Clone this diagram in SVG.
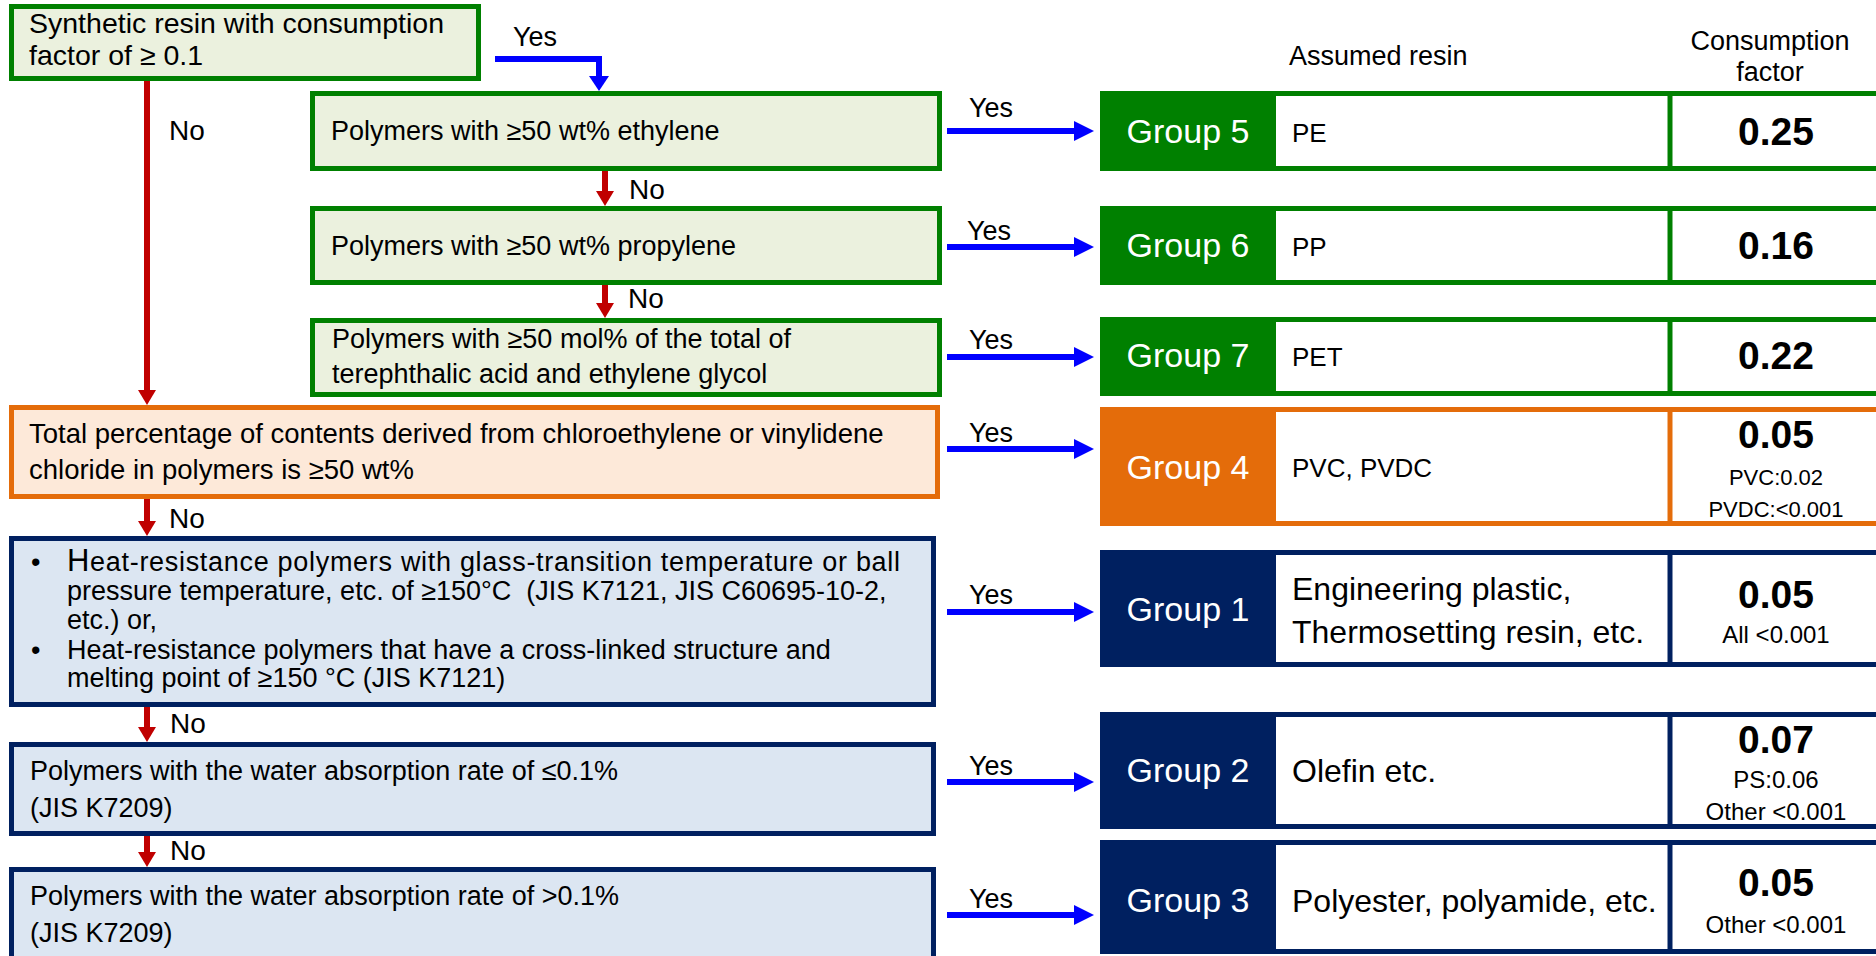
<svg xmlns="http://www.w3.org/2000/svg" width="1876" height="956" viewBox="0 0 1876 956">
<style>
text{font-family:"Liberation Sans",Arial,sans-serif;fill:#000}
.t{font-size:27px}
.tt{font-size:28.5px}
.to{font-size:27.5px}
.lbl{font-size:27px}
.no{font-size:28px}
.hdr{font-size:27px}
.grp{font-size:34px;fill:#fff;text-anchor:middle}
.res{font-size:26px}
.resL{font-size:32px}
.val{font-size:39px;font-weight:bold;text-anchor:middle}
.sm{font-size:22px;text-anchor:middle}
.sm2{font-size:24px;text-anchor:middle}
.gbox{fill:#EBF1DE;stroke:#008000;stroke-width:5}
.obox{fill:#FDE9D9;stroke:#E46C0A;stroke-width:5}
.bbox{fill:#DCE6F2;stroke:#002060;stroke-width:5}
.yes{stroke:#0000FF;stroke-width:6;fill:none;marker-end:url(#bh)}
.nol{stroke:#C00000;stroke-width:6;fill:none;marker-end:url(#rh)}
</style>
<defs>
<marker id="bh" viewBox="0 0 20 20" markerUnits="userSpaceOnUse" markerWidth="20" markerHeight="20" refX="4" refY="10" orient="auto"><path d="M0,0 L20,10 L0,20 z" fill="#0000FF"/></marker>
<marker id="bh2" viewBox="0 0 15 20" markerUnits="userSpaceOnUse" markerWidth="15" markerHeight="20" refX="4" refY="10" orient="auto"><path d="M0,0 L15,10 L0,20 z" fill="#0000FF"/></marker>
<marker id="rh" viewBox="0 0 15 18" markerUnits="userSpaceOnUse" markerWidth="15" markerHeight="18" refX="4" refY="9" orient="auto"><path d="M0,0 L15,9 L0,18 z" fill="#C00000"/></marker>
</defs>
<rect width="1876" height="956" fill="#fff"/>

<g id="connectors">
<path d="M495,59 H599 V80" stroke="#0000FF" stroke-width="6" fill="none" marker-end="url(#bh2)"/>
<line class="nol" x1="147" y1="81" x2="147" y2="394"/>
<line class="nol" x1="605" y1="171" x2="605" y2="195"/>
<line class="nol" x1="605" y1="285" x2="605" y2="307"/>
<line class="nol" x1="147" y1="499" x2="147" y2="525"/>
<line class="nol" x1="147" y1="707" x2="147" y2="731"/>
<line class="nol" x1="147" y1="836" x2="147" y2="856"/>
<line class="yes" x1="947" y1="131" x2="1078" y2="131"/>
<line class="yes" x1="947" y1="247" x2="1078" y2="247"/>
<line class="yes" x1="947" y1="357" x2="1078" y2="357"/>
<line class="yes" x1="947" y1="449" x2="1078" y2="449"/>
<line class="yes" x1="947" y1="612" x2="1078" y2="612"/>
<line class="yes" x1="947" y1="782" x2="1078" y2="782"/>
<line class="yes" x1="947" y1="915" x2="1078" y2="915"/>
<text class="lbl" x="513" y="46">Yes</text>
<text class="no" x="169" y="140">No</text>
<text class="no" x="629" y="199">No</text>
<text class="no" x="628" y="308">No</text>
<text class="no" x="169" y="528">No</text>
<text class="no" x="170" y="733">No</text>
<text class="no" x="170" y="860">No</text>
<text class="lbl" x="969" y="117">Yes</text>
<text class="lbl" x="967" y="240">Yes</text>
<text class="lbl" x="969" y="349">Yes</text>
<text class="lbl" x="969" y="442">Yes</text>
<text class="lbl" x="969" y="604">Yes</text>
<text class="lbl" x="969" y="775">Yes</text>
<text class="lbl" x="969" y="908">Yes</text>
</g>

<g id="start">
<rect class="gbox" x="11.5" y="6.5" width="467" height="72"/>
<text class="tt" x="29" y="33">Synthetic resin with consumption</text>
<text class="tt" x="29" y="65">factor of ≥ 0.1</text>
</g>
<g id="q-ethylene">
<rect class="gbox" x="312.5" y="93.5" width="627" height="75"/>
<text class="t" x="331" y="140">Polymers with ≥50 wt% ethylene</text>
</g>
<g id="q-propylene">
<rect class="gbox" x="312.5" y="208.5" width="627" height="74"/>
<text class="t" x="331" y="255">Polymers with ≥50 wt% propylene</text>
</g>
<g id="q-pet">
<rect class="gbox" x="312.5" y="320.5" width="627" height="74"/>
<text class="t" x="332" y="348">Polymers with ≥50 mol% of the total of</text>
<text class="t" x="332" y="383">terephthalic acid and ethylene glycol</text>
</g>
<g id="q-chloro">
<rect class="obox" x="11.5" y="407.5" width="926" height="89"/>
<text class="to" x="29" y="443">Total percentage of contents derived from chloroethylene or vinylidene</text>
<text class="to" x="29" y="479">chloride in polymers is ≥50 wt%</text>
</g>
<g id="q-heat">
<rect class="bbox" x="11.5" y="538.5" width="922" height="166"/>
<text class="t" x="31" y="571">•</text>
<text class="t" x="67" y="571" textLength="833" lengthAdjust="spacing"><tspan font-size="31">H</tspan>eat-resistance polymers with glass-transition temperature or ball</text>
<text class="t" x="67" y="600" xml:space="preserve">pressure temperature, etc. of ≥150°C  (JIS K7121, JIS C60695-10-2,</text>
<text class="t" x="67" y="629">etc.) or,</text>
<text class="t" x="31" y="659">•</text>
<text class="t" x="67" y="659">Heat-resistance polymers that have a cross-linked structure and</text>
<text class="t" x="67" y="687">melting point of ≥150 °C (JIS K7121)</text>
</g>
<g id="q-water-low">
<rect class="bbox" x="11.5" y="744.5" width="922" height="89"/>
<text class="t" x="30" y="780">Polymers with the water absorption rate of ≤0.1%</text>
<text class="t" x="30" y="817">(JIS K7209)</text>
</g>
<g id="q-water-high">
<rect class="bbox" x="11.5" y="869.5" width="922" height="100"/>
<text class="t" x="30" y="905">Polymers with the water absorption rate of &gt;0.1%</text>
<text class="t" x="30" y="942">(JIS K7209)</text>
</g>

<g id="headers">
<text class="hdr" x="1289" y="65" font-size="28.5">Assumed resin</text>
<text class="hdr" x="1770" y="50" text-anchor="middle">Consumption</text>
<text class="hdr" x="1770" y="81" text-anchor="middle">factor</text>
</g>

<g id="group5">
<rect x="1102.5" y="93.5" width="900" height="75" fill="#fff" stroke="#008000" stroke-width="5"/>
<rect x="1100" y="91" width="176" height="80" rx="4" fill="#008000"/>
<line x1="1670" y1="91" x2="1670" y2="171" stroke="#008000" stroke-width="5"/>
<text class="grp" x="1188" y="143">Group 5</text>
<text class="res" x="1292" y="142">PE</text>
<text class="val" x="1776" y="145">0.25</text>
</g>
<g id="group6">
<rect x="1102.5" y="208.5" width="900" height="74" fill="#fff" stroke="#008000" stroke-width="5"/>
<rect x="1100" y="206" width="176" height="79" rx="4" fill="#008000"/>
<line x1="1670" y1="206" x2="1670" y2="285" stroke="#008000" stroke-width="5"/>
<text class="grp" x="1188" y="257">Group 6</text>
<text class="res" x="1292" y="256">PP</text>
<text class="val" x="1776" y="259">0.16</text>
</g>
<g id="group7">
<rect x="1102.5" y="319.5" width="900" height="74" fill="#fff" stroke="#008000" stroke-width="5"/>
<rect x="1100" y="317" width="176" height="79" rx="4" fill="#008000"/>
<line x1="1670" y1="317" x2="1670" y2="396" stroke="#008000" stroke-width="5"/>
<text class="grp" x="1188" y="367">Group 7</text>
<text class="res" x="1292" y="366">PET</text>
<text class="val" x="1776" y="369">0.22</text>
</g>
<g id="group4">
<rect x="1102.5" y="409.5" width="900" height="114" fill="#fff" stroke="#E46C0A" stroke-width="5"/>
<rect x="1100" y="407" width="176" height="119" rx="4" fill="#E46C0A"/>
<line x1="1670" y1="407" x2="1670" y2="526" stroke="#E46C0A" stroke-width="5"/>
<text class="grp" x="1188" y="479">Group 4</text>
<text class="res" x="1292" y="477">PVC, PVDC</text>
<text class="val" x="1776" y="448">0.05</text>
<text class="sm" x="1776" y="485">PVC:0.02</text>
<text class="sm" x="1776" y="517">PVDC:&lt;0.001</text>
</g>
<g id="group1">
<rect x="1102.5" y="552.5" width="900" height="112" fill="#fff" stroke="#002060" stroke-width="5"/>
<rect x="1100" y="550" width="176" height="117" rx="4" fill="#002060"/>
<line x1="1670" y1="550" x2="1670" y2="667" stroke="#002060" stroke-width="5"/>
<text class="grp" x="1188" y="621">Group 1</text>
<text class="resL" x="1292" y="600">Engineering plastic,</text>
<text class="resL" x="1292" y="643">Thermosetting resin, etc.</text>
<text class="val" x="1776" y="608">0.05</text>
<text class="sm2" x="1776" y="643">All &lt;0.001</text>
</g>
<g id="group2">
<rect x="1102.5" y="714.5" width="900" height="112" fill="#fff" stroke="#002060" stroke-width="5"/>
<rect x="1100" y="712" width="176" height="117" rx="4" fill="#002060"/>
<line x1="1670" y1="712" x2="1670" y2="829" stroke="#002060" stroke-width="5"/>
<text class="grp" x="1188" y="782">Group 2</text>
<text class="resL" x="1292" y="782">Olefin etc.</text>
<text class="val" x="1776" y="753">0.07</text>
<text class="sm2" x="1776" y="788">PS:0.06</text>
<text class="sm2" x="1776" y="820">Other &lt;0.001</text>
</g>
<g id="group3">
<rect x="1102.5" y="842.5" width="900" height="109" fill="#fff" stroke="#002060" stroke-width="5"/>
<rect x="1100" y="840" width="176" height="114" rx="4" fill="#002060"/>
<line x1="1670" y1="840" x2="1670" y2="954" stroke="#002060" stroke-width="5"/>
<text class="grp" x="1188" y="912">Group 3</text>
<text class="resL" x="1292" y="912">Polyester, polyamide, etc.</text>
<text class="val" x="1776" y="896">0.05</text>
<text class="sm2" x="1776" y="933">Other &lt;0.001</text>
</g>
</svg>
